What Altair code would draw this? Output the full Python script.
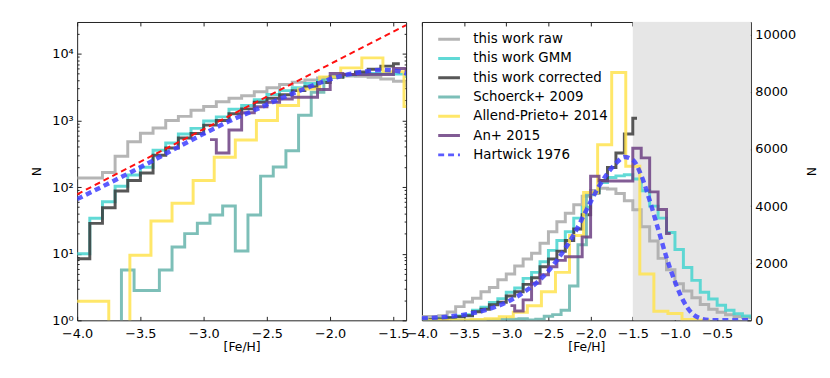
import altair as alt
import pandas as pd

SERIES = ["this work raw", "this work GMM", "this work corrected", "Schoerck+ 2009",
          "Allend-Prieto+ 2014", "An+ 2015", "Hartwick 1976"]
COLORS = ["#a8a8a8", "#45d3cf", "#3a3a3a", "#66b4ac", "#ffe34f", "#6c3f82", "#3f3fff"]
DASHES = [[1, 0], [1, 0], [1, 0], [1, 0], [1, 0], [1, 0], [6, 4]]

EDGES_01 = [-4.0, -3.9, -3.8, -3.7, -3.6, -3.5, -3.4, -3.3, -3.2, -3.1, -3.0,
            -2.9, -2.8, -2.7, -2.6, -2.5, -2.4, -2.3, -2.2, -2.1, -2.0,
            -1.9, -1.8, -1.7, -1.6, -1.5, -1.4, -1.3, -1.2, -1.1, -1.0,
            -0.9, -0.8, -0.7, -0.6, -0.5, -0.4, -0.3, -0.2, -0.1, 0.0]
RAW = [137, 137, 165, 290, 480, 640, 770, 1000, 1150, 1420, 1620, 1900, 2150, 2350,
       2700, 3100, 3450, 3750, 4050, 4350, 4550, 4630, 4600, 4440, 4190, 3870, 3280,
       2780, 2170, 1770, 1280, 1030, 790, 555, 390, 280, 195, 135, 110, 95]
GMM = [10, 34, 60, 103, 152, 198, 358, 460, 625, 760, 980, 1130, 1470, 1680, 2050,
       2450, 2800, 3100, 3580, 3960, 4480, 4830, 5000, 5060, 5100, 4950, 4540, 4000,
       3580, 3080, 2480, 1850, 1400, 980, 750, 530, 350, 230, 150, 120]
CORR_EDGES = [-4.0, -3.9, -3.8, -3.7, -3.6, -3.5, -3.4, -3.3, -3.2, -3.1, -3.0,
              -2.9, -2.8, -2.7, -2.6, -2.5, -2.4, -2.3, -2.2, -2.1, -2.0,
              -1.9, -1.8, -1.7, -1.6, -1.5, -1.45]
CORR = [8.4, 28.5, 49, 87, 125, 163, 300, 385, 545, 635, 850, 1000, 1260, 1490, 1880,
        2150, 2420, 2800, 3200, 3700, 4460, 4900, 5350, 5860, 6530, 7080]
SCH_EDGES = [-3.65, -3.55, -3.45, -3.35, -3.25, -3.15, -3.05, -2.95, -2.85, -2.75,
             -2.65, -2.55, -2.45, -2.35, -2.25, -2.15, -2.05, -1.95]
SCH = [5.7, 2.8, 2.8, 5.7, 12.6, 20, 28.6, 38, 52, 11, 38, 146, 200, 350, 1200, 2650, 4400]
AP_EDGES = [-4.0833, -3.9167, -3.75, -3.5833, -3.4167, -3.25, -3.0833, -2.9167, -2.75,
            -2.5833, -2.4167, -2.25, -2.0833, -1.9167, -1.75, -1.5833, -1.4167, -1.25,
            -1.0833, -0.9167, -0.75, -0.5833]
AP = [1.93, 1.93, 0, 9.5, 31, 57, 125, 280, 508, 1000, 1680, 2970, 4480, 6150, 8680,
      5400, 1620, 320, 240, 30, 5]
AN_EDGES = [-2.95, -2.9, -2.8, -2.7, -2.6, -2.5, -2.4, -2.3, -2.2, -2.1, -2.0, -1.9,
            -1.8, -1.7, -1.6, -1.5, -1.4, -1.3, -1.2, -1.1, -1.05]
AN = [515, 325, 716, 1300, 1600, 1880, 2100, 2230, 2230, 2920, 5050, 4880, 4880, 4880,
      4880, 6030, 5690, 4500, 3880, 3040]
HART_FEH = [-4.0, -3.8, -3.6, -3.4, -3.2, -3.0, -2.8, -2.6, -2.4, -2.2, -2.0, -1.9, -1.8,
            -1.7, -1.6, -1.5, -1.4, -1.3, -1.2, -1.1, -1.0, -0.9, -0.8, -0.7, -0.6, -0.5,
            -0.3, -0.1]
HART_N = [66, 102, 158, 250, 400, 630, 970, 1420, 2100, 3000, 4150, 4700, 5150, 5500,
          5720, 5620, 5080, 4200, 3200, 2200, 1350, 680, 250, 70, 15, 3, 0, 0]
CLOSED_FEH = [-4.0, -1.4]
CLOSED_N = [78, 27000]
SHADE_LO, SHADE_HI = -1.5, 0.0

LEFT_X_TICKS = [-4.0, -3.5, -3.0, -2.5, -2.0, -1.5]
RIGHT_X_TICKS = [-4.0, -3.5, -3.0, -2.5, -2.0, -1.5, -1.0, -0.5]
LOG_MAJOR = [1, 10, 100, 1000, 10000]
LOG_MINOR = [2, 3, 4, 5, 6, 7, 8, 9, 20, 30, 40, 50, 60, 70, 80, 90,
             200, 300, 400, 500, 600, 700, 800, 900,
             2000, 3000, 4000, 5000, 6000, 7000, 8000, 9000, 20000]
LIN_TICKS = [0, 2000, 4000, 6000, 8000, 10000]


def step_rows(name, edges, vals, start_zero=False):
    pts = []
    if start_zero:
        pts.append((edges[0], 0.0))
    for e, v in zip(edges[:-1], vals):
        pts.append((e, v))
    pts.append((edges[-1], vals[-1]))
    return [dict(series=name, feh=x, N=y, k=i) for i, (x, y) in enumerate(pts)]


rows = []
rows += step_rows(SERIES[0], EDGES_01, RAW)
rows += step_rows(SERIES[1], EDGES_01, GMM)
rows += step_rows(SERIES[2], CORR_EDGES, CORR)
rows += step_rows(SERIES[3], SCH_EDGES, SCH, start_zero=True)
rows += step_rows(SERIES[4], AP_EDGES, AP)
rows += step_rows(SERIES[5], AN_EDGES, AN)
hist_df = pd.DataFrame(rows)
hart_df = pd.DataFrame({"series": SERIES[6], "feh": HART_FEH, "N": HART_N,
                        "k": list(range(len(HART_FEH)))})
red_df = pd.DataFrame({"feh": CLOSED_FEH, "N": CLOSED_N})
shade_df = pd.DataFrame({"lo": [SHADE_LO], "hi": [SHADE_HI], "b": [0], "t": [12000]})

color_scale = alt.Scale(domain=SERIES, range=COLORS)
dash_scale = alt.Scale(domain=SERIES, range=DASHES)

FONT = "DejaVu Sans"


def mk_axis(orient, size, values, labels=False, title=None, **kw):
    d = dict(orient=orient, offset=-size, tickSize=size, values=values, labels=labels,
             domain=False, grid=False, ticks=True, tickColor="#222222", tickWidth=1,
             labelFlush=False, labelOverlap=False, title=title)
    d.update(kw)
    return alt.Axis(**d)


def line_layer(df, name, xs, ys, logy, xaxis, yaxis, legend, width=3.0,
               interp="step-after", opacity=0.85):
    base = alt.Chart(df).transform_filter(alt.datum.series == name)
    if logy:
        base = base.transform_calculate(Nv="max(datum.N, 0.05)")
    else:
        base = base.transform_calculate(Nv="datum.N")
    return base.mark_line(interpolate=interp, strokeWidth=width, opacity=opacity,
                          clip=True, strokeCap="butt").encode(
        x=alt.X("feh:Q", scale=xs, axis=xaxis),
        y=alt.Y("Nv:Q", scale=ys, axis=yaxis),
        color=alt.Color("series:N", scale=color_scale, legend=legend),
        strokeDash=alt.StrokeDash("series:N", scale=dash_scale, legend=legend),
        order=alt.Order("k:Q"),
    )


# ---------------- left panel (log) ----------------
xs_l = alt.Scale(domain=[-4.0, -1.4], nice=False, zero=False)
ys_l = alt.Scale(type="log", domain=[1, 30000], nice=False)

ax_lb = mk_axis("bottom", 4, LEFT_X_TICKS, labels=True, title="[Fe/H]", format=".1f",
                labelPadding=7, titlePadding=1)
ax_lt = mk_axis("top", 4, LEFT_X_TICKS)
ax_ll = mk_axis("left", 4, LOG_MAJOR, labels=True, title="N", labelPadding=4, titlePadding=8,
                labelExpr="'10' + ['\u2070','\u00b9','\u00b2','\u00b3','\u2074','\u2075'][round(log(datum.value)/LN10)]")
ax_lr = mk_axis("right", 4, LOG_MAJOR)
ax_llm = mk_axis("left", 2, LOG_MINOR)
ax_lrm = mk_axis("right", 2, LOG_MINOR)

left_layers = [
    line_layer(hist_df, SERIES[0], xs_l, ys_l, True, ax_lb, ax_ll, None),
    line_layer(hist_df, SERIES[1], xs_l, ys_l, True, ax_lt, ax_lr, None),
    line_layer(hist_df, SERIES[2], xs_l, ys_l, True, None, ax_llm, None),
    line_layer(hist_df, SERIES[3], xs_l, ys_l, True, None, ax_lrm, None),
    line_layer(hist_df, SERIES[4], xs_l, ys_l, True, None, None, None),
    line_layer(hist_df, SERIES[5], xs_l, ys_l, True, None, None, None),
    line_layer(hart_df, SERIES[6], xs_l, ys_l, True, None, None, None, width=4.5,
               interp="monotone"),
    alt.Chart(red_df).mark_line(color="#ff1010", strokeWidth=2, strokeDash=[6, 4],
                                clip=True).encode(
        x=alt.X("feh:Q", scale=xs_l, axis=None),
        y=alt.Y("N:Q", scale=ys_l, axis=None),
    ),
]
left = alt.layer(*left_layers).resolve_axis(x="independent", y="independent").properties(
    width=333, height=302)

# ---------------- right panel (linear) ----------------
xs_r = alt.Scale(domain=[-4.0, -0.1], nice=False, zero=False)
ys_r = alt.Scale(domain=[0, 10450], nice=False, zero=True)

ax_rb = mk_axis("bottom", 4, RIGHT_X_TICKS, labels=True, title="[Fe/H]", format=".1f",
                labelPadding=7, titlePadding=1)
ax_rt = mk_axis("top", 4, RIGHT_X_TICKS)
ax_rr = mk_axis("right", 4, LIN_TICKS, labels=True, title="N", format="d",
                labelPadding=4, titlePadding=8)

leg = alt.Legend(title=None, orient="none", legendX=15, legendY=5, symbolType="stroke",
                 symbolSize=484, symbolStrokeWidth=3, labelFont=FONT, labelFontSize=13.5,
                 labelOffset=12, rowPadding=0.5, padding=0, labelColor="black",
                 labelLimit=300)

shade = alt.Chart(shade_df).mark_rect(color="#e6e6e6", clip=True).encode(
    x=alt.X("lo:Q", scale=xs_r, axis=None),
    x2="hi:Q",
    y=alt.Y("b:Q", scale=ys_r, axis=None),
    y2="t:Q",
)

right_layers = [
    shade,
    line_layer(hist_df, SERIES[0], xs_r, ys_r, False, ax_rb, ax_rr, leg),
    line_layer(hist_df, SERIES[1], xs_r, ys_r, False, ax_rt, None, leg),
    line_layer(hist_df, SERIES[2], xs_r, ys_r, False, None, None, leg),
    line_layer(hist_df, SERIES[3], xs_r, ys_r, False, None, None, leg),
    line_layer(hist_df, SERIES[4], xs_r, ys_r, False, None, None, leg),
    line_layer(hist_df, SERIES[5], xs_r, ys_r, False, None, None, leg),
    line_layer(hart_df, SERIES[6], xs_r, ys_r, False, None, None, leg, width=4.5,
               interp="monotone"),
]
right = alt.layer(*right_layers).resolve_axis(x="independent", y="independent").properties(
    width=333, height=302)

chart = alt.hconcat(left, right, spacing=16, bounds="flush").resolve_scale(
    x="independent", y="independent", color="independent", strokeDash="independent"
).configure_view(stroke="#222222", strokeWidth=1).configure_axis(
    labelFont=FONT, titleFont=FONT, labelFontSize=13, titleFontSize=12.5,
    titleFontWeight="normal", labelColor="black", titleColor="black"
).properties(padding={"left": 22, "top": 11, "right": 5, "bottom": 5})

chart.save("out.html", embed_options={"renderer": "svg", "actions": False})
